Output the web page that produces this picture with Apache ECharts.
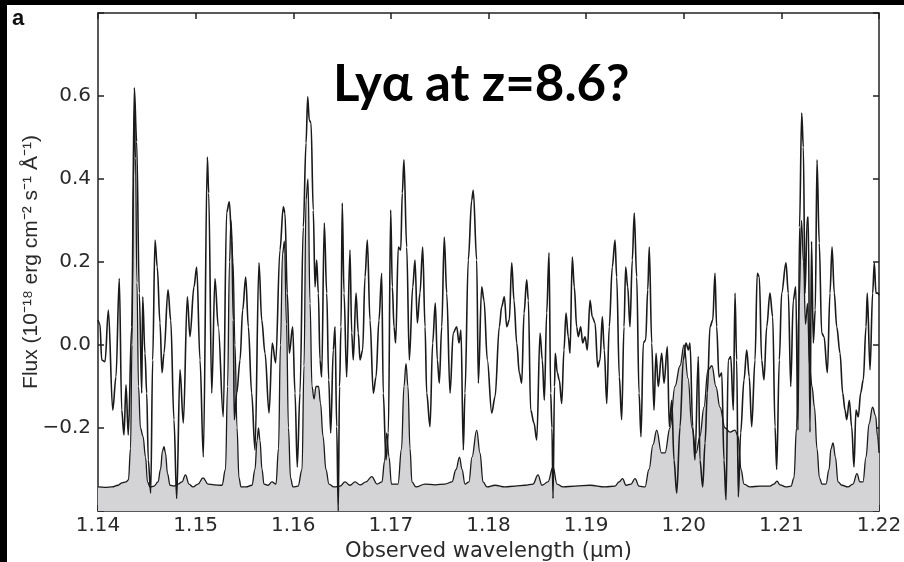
<!DOCTYPE html>
<html>
<head>
<meta charset="utf-8">
<script src="https://cdn.jsdelivr.net/npm/echarts@6/dist/echarts.min.js"></script>
<style>
html,body{margin:0;padding:0;background:#000;}
#c{width:904px;height:562px;}
</style>
</head>
<body>
<div id="c"></div>
<script>
// Observed spectrum (wavelength in µm, flux in 1e-18 erg cm-2 s-1 Å-1)
var specWave = [1.14000,1.14020,1.14038,1.14072,1.14106,1.14151,1.14184,1.14218,1.14243,1.14266,1.14287,1.14310,1.14345,1.14372,1.14396,1.14423,1.14448,1.14458,1.14481,1.14499,1.14515,1.14540,1.14560,1.14584,1.14607,1.14635,1.14656,1.14676,1.14717,1.14745,1.14778,1.14806,1.14840,1.14874,1.14915,1.14942,1.14983,1.15011,1.15045,1.15079,1.15120,1.15134,1.15165,1.15198,1.15232,1.15283,1.15318,1.15345,1.15370,1.15386,1.15396,1.15421,1.15455,1.15482,1.15513,1.15540,1.15574,1.15608,1.15649,1.15677,1.15711,1.15752,1.15785,1.15820,1.15864,1.15898,1.15915,1.15939,1.15960,1.15994,1.16018,1.16041,1.16069,1.16103,1.16131,1.16148,1.16164,1.16182,1.16205,1.16223,1.16240,1.16257,1.16274,1.16291,1.16318,1.16343,1.16363,1.16384,1.16410,1.16428,1.16445,1.16461,1.16474,1.16489,1.16502,1.16520,1.16547,1.16581,1.16599,1.16615,1.16643,1.16666,1.16684,1.16711,1.16735,1.16759,1.16786,1.16820,1.16848,1.16878,1.16906,1.16922,1.16950,1.16974,1.16998,1.17015,1.17032,1.17049,1.17076,1.17101,1.17117,1.17134,1.17162,1.17189,1.17224,1.17247,1.17271,1.17298,1.17326,1.17350,1.17367,1.17401,1.17428,1.17455,1.17476,1.17496,1.17521,1.17547,1.17572,1.17606,1.17639,1.17674,1.17698,1.17718,1.17742,1.17759,1.17793,1.17828,1.17844,1.17879,1.17896,1.17930,1.17954,1.17988,1.18033,1.18067,1.18111,1.18135,1.18162,1.18187,1.18213,1.18238,1.18261,1.18289,1.18316,1.18340,1.18364,1.18391,1.18408,1.18432,1.18466,1.18494,1.18528,1.18551,1.18572,1.18596,1.18620,1.18637,1.18650,1.18661,1.18676,1.18684,1.18705,1.18725,1.18750,1.18773,1.18794,1.18817,1.18835,1.18858,1.18879,1.18903,1.18920,1.18944,1.18965,1.18989,1.19012,1.19040,1.19063,1.19091,1.19119,1.19142,1.19166,1.19186,1.19211,1.19237,1.19268,1.19296,1.19313,1.19340,1.19364,1.19388,1.19405,1.19426,1.19449,1.19473,1.19493,1.19518,1.19542,1.19562,1.19586,1.19610,1.19631,1.19647,1.19672,1.19695,1.19716,1.19739,1.19774,1.19798,1.19832,1.19852,1.19877,1.19900,1.19928,1.19962,1.19995,1.20023,1.20047,1.20064,1.20092,1.20115,1.20149,1.20166,1.20194,1.20218,1.20241,1.20269,1.20297,1.20320,1.20337,1.20361,1.20389,1.20412,1.20433,1.20456,1.20481,1.20508,1.20525,1.20542,1.20559,1.20583,1.20617,1.20645,1.20671,1.20696,1.20730,1.20753,1.20774,1.20798,1.20822,1.20850,1.20883,1.20911,1.20935,1.20952,1.20979,1.21003,1.21047,1.21071,1.21096,1.21122,1.21147,1.21170,1.21186,1.21208,1.21225,1.21242,1.21266,1.21276,1.21293,1.21309,1.21327,1.21347,1.21365,1.21388,1.21413,1.21437,1.21471,1.21498,1.21519,1.21542,1.21567,1.21601,1.21628,1.21652,1.21669,1.21696,1.21720,1.21744,1.21764,1.21788,1.21812,1.21839,1.21867,1.21880,1.21908,1.21935,1.21952,1.21969,1.21990,1.22000];
var specFlux = [0.06,0.05,-0.036,-0.04,0.084,-0.157,-0.077,0.16,-0.157,-0.217,-0.096,-0.217,0.044,0.62,0.49,0.125,-0.116,0.116,-0.02,-0.116,-0.277,-0.357,-0.036,0.253,0.188,0.053,-0.067,-0.02,0.133,0.06,-0.18,-0.37,-0.06,-0.188,0.116,0.02,0.14,0.188,-0.036,-0.27,0.453,0.366,-0.116,0.16,0.044,-0.173,0.32,0.345,0.253,0.06,-0.18,-0.116,-0.036,0.084,0.164,0.044,-0.116,-0.253,0.198,0.06,-0.02,-0.164,0.005,-0.043,0.229,0.333,0.318,0.125,-0.02,0.044,-0.116,-0.294,-0.116,0.284,0.487,0.598,0.542,0.535,0.325,0.14,0.205,0.125,-0.036,-0.077,0.294,0.125,-0.084,-0.212,-0.012,0.044,-0.197,-0.4,-0.1,0.044,0.342,0.125,-0.077,0.229,0.029,-0.036,0.125,0.029,-0.036,-0.012,0.164,0.253,0.06,-0.116,-0.077,0.06,0.173,-0.116,-0.277,-0.212,0.325,0.14,0.044,0.005,0.236,0.229,0.366,0.446,0.236,-0.036,0.14,0.205,0.053,0.125,0.236,0.044,-0.116,-0.197,0.005,0.101,-0.036,-0.092,0.044,0.26,0.125,-0.116,0.029,0.044,0.005,0.036,-0.253,-0.116,0.205,0.349,0.373,0.205,-0.092,0.14,0.108,-0.036,-0.164,-0.125,0.044,0.092,0.116,0.044,0.06,0.198,0.108,0.005,-0.067,-0.092,0.077,0.157,0.108,-0.157,-0.188,-0.229,0.029,-0.036,-0.133,0.077,0.222,-0.116,-0.2,-0.37,-0.1,-0.02,-0.067,-0.084,-0.141,-0.012,0.077,0.02,-0.02,0.212,0.14,0.044,0.02,0.044,0.005,0.02,-0.012,0.108,0.068,0.053,-0.053,-0.036,0.068,-0.012,-0.141,0.044,0.188,0.253,0.164,-0.077,-0.18,0.044,0.188,0.14,0.044,0.205,0.318,0.164,-0.116,-0.221,0.005,0.012,0.133,0.236,0.005,-0.157,-0.02,-0.1,-0.02,-0.092,-0.004,-0.197,-0.133,-0.277,-0.357,-0.197,-0.036,0.005,-0.012,0.005,-0.197,-0.277,-0.028,-0.277,-0.342,-0.236,-0.116,0.044,0.06,0.173,0.044,-0.077,-0.067,-0.277,-0.373,-0.036,-0.028,-0.157,0.125,-0.036,-0.366,-0.212,-0.084,-0.012,-0.077,-0.197,-0.036,0.173,0.164,-0.036,-0.084,0.044,0.125,0.068,-0.197,-0.3,-0.036,0.125,0.198,0.125,-0.1,0.108,0.14,-0.205,0.284,0.559,0.477,0.125,0.308,0.308,-0.21,0.25,0.005,0.084,0.446,0.246,0.029,0.02,-0.067,0.125,0.236,0.125,0.044,-0.02,-0.116,-0.157,-0.18,-0.133,-0.197,-0.294,-0.157,-0.173,-0.116,-0.084,0.044,0.125,-0.06,0.125,0.198,0.125,0.125,0.12];

// Sky spectrum (scaled), plotted as grey filled curve
var skyWave = [1.14000,1.14072,1.14143,1.14205,1.14246,1.14287,1.14312,1.14333,1.14348,1.14364,1.14374,1.14384,1.14399,1.14415,1.14435,1.14461,1.14487,1.14507,1.14533,1.14574,1.14615,1.14640,1.14661,1.14676,1.14691,1.14712,1.14738,1.14778,1.14819,1.14860,1.14896,1.14932,1.14973,1.15024,1.15076,1.15128,1.15188,1.15270,1.15306,1.15327,1.15347,1.15362,1.15383,1.15403,1.15424,1.15444,1.15465,1.15516,1.15577,1.15608,1.15629,1.15644,1.15659,1.15680,1.15700,1.15741,1.15782,1.15823,1.15849,1.15869,1.15890,1.15910,1.15931,1.15951,1.15972,1.15997,1.16049,1.16090,1.16110,1.16131,1.16151,1.16172,1.16192,1.16213,1.16233,1.16259,1.16279,1.16305,1.16335,1.16366,1.16417,1.16479,1.16530,1.16581,1.16633,1.16684,1.16745,1.16804,1.16858,1.16909,1.16935,1.16957,1.16981,1.17006,1.17073,1.17109,1.17134,1.17155,1.17175,1.17196,1.17216,1.17257,1.17350,1.17452,1.17554,1.17626,1.17667,1.17703,1.17729,1.17759,1.17800,1.17831,1.17879,1.17913,1.17944,1.17985,1.18067,1.18169,1.18271,1.18374,1.18456,1.18507,1.18548,1.18609,1.18661,1.18702,1.18763,1.18886,1.19040,1.19193,1.19296,1.19337,1.19373,1.19409,1.19460,1.19501,1.19542,1.19603,1.19644,1.19685,1.19723,1.19772,1.19808,1.19859,1.19910,1.19962,1.20003,1.20044,1.20085,1.20126,1.20166,1.20207,1.20248,1.20289,1.20330,1.20371,1.20423,1.20474,1.20525,1.20556,1.20587,1.20617,1.20679,1.20781,1.20883,1.20924,1.20955,1.20986,1.21047,1.21099,1.21129,1.21155,1.21181,1.21206,1.21227,1.21247,1.21268,1.21288,1.21314,1.21339,1.21365,1.21390,1.21416,1.21457,1.21488,1.21508,1.21529,1.21554,1.21580,1.21621,1.21682,1.21733,1.21774,1.21805,1.21836,1.21867,1.21898,1.21934,1.21965,1.21985,1.22000];
var skyFlux = [-0.342,-0.343,-0.342,-0.338,-0.332,-0.33,-0.325,-0.25,0.0,0.4,0.58,0.45,0.15,-0.1,-0.2,-0.22,-0.27,-0.33,-0.342,-0.34,-0.33,-0.3,-0.255,-0.245,-0.26,-0.31,-0.338,-0.34,-0.335,-0.33,-0.313,-0.335,-0.342,-0.335,-0.32,-0.335,-0.337,-0.338,-0.3,-0.1,0.2,0.3,0.2,0.0,-0.2,-0.32,-0.342,-0.342,-0.338,-0.3,-0.23,-0.2,-0.23,-0.3,-0.335,-0.338,-0.33,-0.335,-0.25,0.0,0.22,0.25,0.05,-0.2,-0.32,-0.342,-0.34,-0.3,-0.05,0.35,0.4,0.1,-0.1,-0.13,-0.1,-0.1,-0.14,-0.22,-0.3,-0.335,-0.342,-0.34,-0.33,-0.338,-0.33,-0.337,-0.33,-0.317,-0.335,-0.33,-0.28,-0.212,-0.27,-0.335,-0.335,-0.25,-0.1,-0.045,-0.1,-0.25,-0.33,-0.342,-0.335,-0.337,-0.335,-0.33,-0.3,-0.27,-0.3,-0.335,-0.33,-0.27,-0.205,-0.26,-0.33,-0.342,-0.338,-0.342,-0.34,-0.338,-0.335,-0.313,-0.338,-0.33,-0.294,-0.335,-0.342,-0.34,-0.338,-0.342,-0.34,-0.33,-0.322,-0.338,-0.335,-0.322,-0.34,-0.342,-0.3,-0.24,-0.205,-0.26,-0.26,-0.2,-0.1,-0.05,0.0,-0.08,-0.2,-0.26,-0.22,-0.15,-0.06,-0.05,-0.1,-0.15,-0.2,-0.21,-0.205,-0.22,-0.3,-0.335,-0.342,-0.34,-0.34,-0.335,-0.328,-0.337,-0.342,-0.34,-0.32,-0.2,0.1,0.3,0.2,0.05,0.1,-0.05,-0.1,-0.15,-0.25,-0.32,-0.335,-0.335,-0.3,-0.25,-0.236,-0.27,-0.33,-0.338,-0.342,-0.335,-0.31,-0.33,-0.33,-0.27,-0.19,-0.15,-0.17,-0.22,-0.26];

var xTicks = [1.14,1.15,1.16,1.17,1.18,1.19,1.20,1.21,1.22];
var yTickLabels = ['0.6','0.4','0.2','0.0','−0.2'];

function zip(a,b){var r=[];for(var i=0;i<a.length;i++)r.push([a[i],b[i]]);return r;}

var chart = echarts.init(document.getElementById('c'), null, {renderer:'canvas'});
var labelColor = '#2a2a2a';
var axisColor = '#222';
var lab = {color:labelColor, fontFamily:'DejaVu Sans', fontSize:20};

var option = {
  backgroundColor:'#000',
  animation:false,
  graphic:[
    {type:'rect', shape:{x:7,y:5,width:897,height:557}, style:{fill:'#fff'}, z:-10},
    {type:'text', left:12, top:8, style:{text:'a', fill:'#111', font:'bold 22px "Liberation Sans", Arial, sans-serif'}},
    {type:'text', left:333, top:59, z:100, style:{text:'Lyα at z=8.6?', fill:'#000', font:'bold 51px Lato, sans-serif'}}
  ],
  grid:{left:98, right:25, top:13, bottom:51, show:false, outerBoundsMode:'none', containLabel:false},
  xAxis:[{
    type:'value', min:1.14, max:1.22, interval:0.01,
    axisLine:{show:true, onZero:false, lineStyle:{color:axisColor, width:1.5}},
    axisTick:{show:true, inside:true, length:6, lineStyle:{color:axisColor, width:1.5}},
    axisLabel:Object.assign({margin:5, formatter:function(v){
      for(var i=0;i<xTicks.length;i++){ if(Math.abs(v-xTicks[i])<1e-6) return xTicks[i].toFixed(2);} return '';}}, lab),
    splitLine:{show:false},
    name:'Observed wavelength (μm)', nameLocation:'middle', nameGap:30, nameMoveOverlap:false,
    nameTextStyle:{color:labelColor, fontFamily:'DejaVu Sans', fontSize:21}
  },{
    type:'value', position:'top', min:1.14, max:1.22, interval:0.01,
    axisLine:{show:true, onZero:false, lineStyle:{color:axisColor, width:1.5}},
    axisTick:{show:true, inside:true, length:6, lineStyle:{color:axisColor, width:1.5}},
    axisLabel:{show:false}, splitLine:{show:false}
  }],
  yAxis:[{
    type:'value', min:-0.4, max:0.8, interval:0.2,
    axisLine:{show:true, onZero:false, lineStyle:{color:axisColor, width:1.5}},
    axisTick:{show:true, inside:true, length:6, lineStyle:{color:axisColor, width:1.5}},
    axisLabel:Object.assign({margin:7, formatter:function(v){
      var s = (Math.abs(v)<1e-9?0:v).toFixed(1).replace('-', '−');
      return yTickLabels.indexOf(s)>=0 ? s : '';}}, lab),
    splitLine:{show:false},
    name:'Flux (10⁻¹⁸ erg cm⁻² s⁻¹ Å⁻¹)', nameLocation:'middle', nameGap:56, nameRotate:90, nameMoveOverlap:false,
    nameTextStyle:{color:labelColor, fontFamily:'Liberation Sans', fontSize:21}
  },{
    type:'value', position:'right', min:-0.4, max:0.8, interval:0.2,
    axisLine:{show:true, onZero:false, lineStyle:{color:axisColor, width:1.5}},
    axisTick:{show:true, inside:true, length:6, lineStyle:{color:axisColor, width:1.5}},
    axisLabel:{show:false}, splitLine:{show:false}
  }],
  series:[{
    type:'line', name:'sky', data:zip(skyWave, skyFlux), xAxisIndex:0, yAxisIndex:0,
    showSymbol:false, smooth:0.4, smoothMonotone:'x',
    lineStyle:{color:'#1a1a1a', width:1.3},
    areaStyle:{color:'#d4d4d6', origin:'start', opacity:1},
    z:2
  },{
    type:'line', name:'spectrum', data:zip(specWave, specFlux), xAxisIndex:0, yAxisIndex:0,
    showSymbol:false, smooth:0.35, smoothMonotone:'x',
    lineStyle:{color:'#1a1a1a', width:1.6},
    z:3
  }]
};
chart.setOption(option);
</script>
</body>
</html>
